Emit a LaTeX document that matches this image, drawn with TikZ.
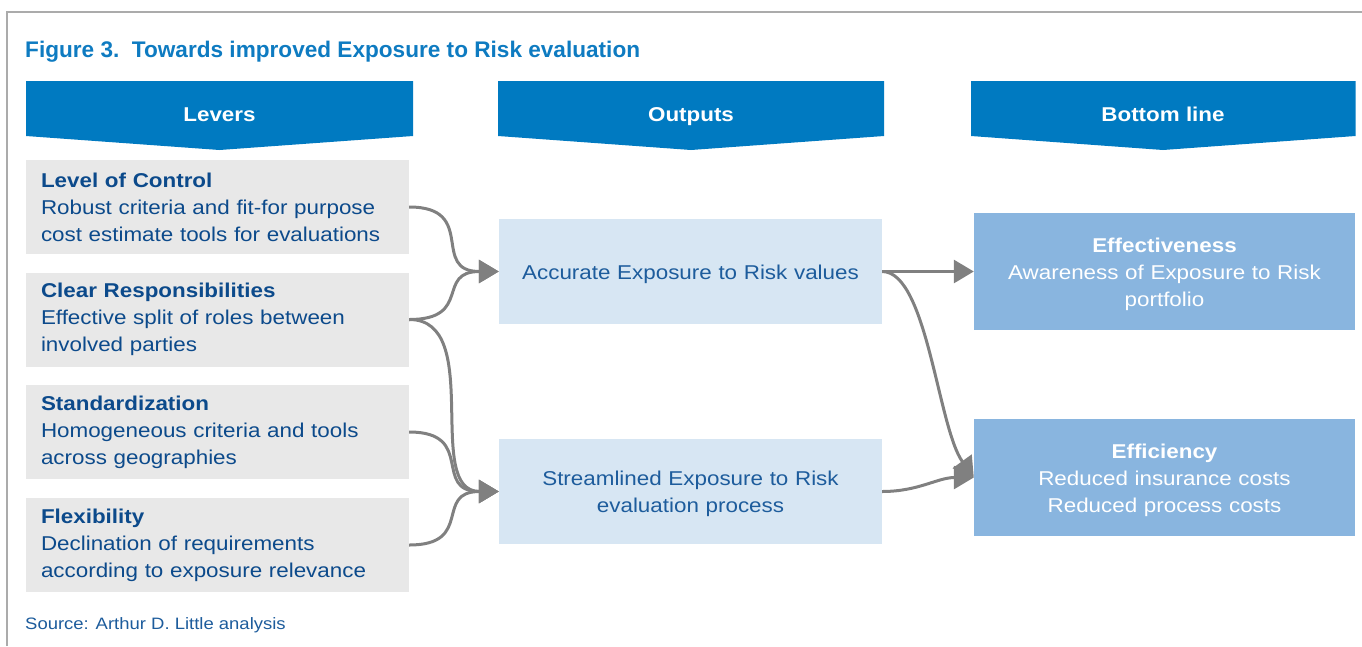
\documentclass[tikz,border=0pt]{standalone}
\usepackage{fontspec}
\setmainfont{Liberation Sans}[FakeStretch=1.12]
\newfontfamily\titlefont{Liberation Sans}
\usetikzlibrary{arrows.meta}
\definecolor{titleblue}{HTML}{0E7BC1}
\definecolor{hdrblue}{HTML}{007AC1}
\definecolor{txtblue}{HTML}{0C4A8B}
\definecolor{outblue}{HTML}{1D5C9C}
\definecolor{levgray}{HTML}{E8E8E8}
\definecolor{outfill}{HTML}{D7E6F3}
\definecolor{botfill}{HTML}{89B5DF}
\definecolor{framegray}{HTML}{ABABAB}
\definecolor{conngray}{HTML}{808080}
\begin{document}
\begin{tikzpicture}[x=1pt,y=-1pt,
  leverbox/.style={fill=levgray, minimum width=383pt, minimum height=94pt, text width=353pt, inner xsep=15pt, inner ysep=0pt, align=left, text=txtblue, font=\fontsize{20}{27}\selectfont},
  outbox/.style={fill=outfill, minimum width=383pt, minimum height=105pt, inner sep=0pt},
  botbox/.style={fill=botfill, minimum width=381pt, minimum height=117pt, inner sep=0pt},
  outtxt/.style={text width=353pt, inner sep=0pt, align=center, text=outblue, font=\fontsize{20}{27}\selectfont},
  bottxt/.style={text width=351pt, inner sep=0pt, align=center, text=white, font=\fontsize{20}{27}\selectfont},
  hdr/.style={fill=hdrblue},
  hdrtxt/.style={text=white, font=\bfseries\fontsize{20}{24}\selectfont, anchor=base, inner sep=0pt},
  conn/.style={draw=conngray, line width=3pt, -{Triangle[length=20pt,width=23pt]}},
]
\useasboundingbox (0,0) rectangle (1362,646);
% frame
\draw[framegray, line width=2.5pt] (7,646) -- (7,12) -- (1362,12);
% title
\node[anchor=base west, inner sep=0pt, text=titleblue, font=\titlefont\bfseries\fontsize{22.6}{26}\selectfont] (title) at (25,57.5) {Figure 3.\ \ Towards improved Exposure to Risk evaluation};
% headers
\fill[hdr] (26,81) -- (413,81) -- (413,136) -- (219.5,150) -- (26,136) -- cycle;
\fill[hdr] (498,81) -- (884,81) -- (884,136) -- (691,150) -- (498,136) -- cycle;
\fill[hdr] (971,81) -- (1355.5,81) -- (1355.5,136) -- (1163,150) -- (971,136) -- cycle;
\node[hdrtxt] (h1) at (219.5,121) {Levers};
\node[hdrtxt] (h2) at (691,121) {Outputs};
\node[hdrtxt] (h3) at (1163,121) {Bottom line};
% levers
\node[leverbox] (l1) at (217.5,207) {\textbf{Level of Control}\\Robust criteria and fit-for purpose\\cost estimate tools for evaluations};
\node[leverbox] (l2) at (217.5,319.5) {\textbf{Clear Responsibilities}\\Effective split of roles between\\involved parties};
\node[leverbox] (l3) at (217.5,432) {\textbf{Standardization}\\Homogeneous criteria and tools\\across geographies};
\node[leverbox] (l4) at (217.5,545) {\textbf{Flexibility}\\Declination of requirements\\according to exposure relevance};
% outputs
\node[outbox] (o1) at (690.5,271.5) {};
\node[outbox] (o2) at (690.5,491.5) {};
\node[outtxt] (o1t) at ([yshift=-3pt]o1.center) {Accurate Exposure to Risk values};
\node[outtxt] (o2t) at ([yshift=-2pt]o2.center) {Streamlined Exposure to Risk\\evaluation process};
% bottom line
\node[botbox] (b1) at (1164.5,271.5) {};
\node[botbox] (b2) at (1164.5,477.5) {};
\node[bottxt] (b1t) at ([yshift=-3pt]b1.center) {\textbf{Effectiveness}\\Awareness of Exposure to Risk\\portfolio};
\node[bottxt] (b2t) at ([yshift=-3pt]b2.center) {\textbf{Efficiency}\\Reduced insurance costs\\Reduced process costs};
% source
\node[anchor=base west, inner sep=0pt, text=outblue, font=\fontsize{16.5}{20}\selectfont] (src) at (25,629) {Source: Arthur D. Little analysis};
% connectors
\draw[conn] (l1.east) to[out=0,in=180,looseness=1.6] (o1.west);
\draw[conn] (l2.east) to[out=0,in=180,looseness=1.6] (o1.west);
\draw[conn] (l2.east) to[out=0,in=180,looseness=1] (o2.west);
\draw[conn] (l3.east) to[out=0,in=180,looseness=1.6] (o2.west);
\draw[conn] (l4.east) to[out=0,in=180,looseness=1.6] (o2.west);
\draw[conn] (o1.east) -- (b1.west);
\draw[conn] (o1.east) .. controls +(45,0) and +(-36,-50) .. (b2.west);
\draw[conn] (o2.east) to[out=0,in=180] (b2.west);
\end{tikzpicture}
\end{document}
